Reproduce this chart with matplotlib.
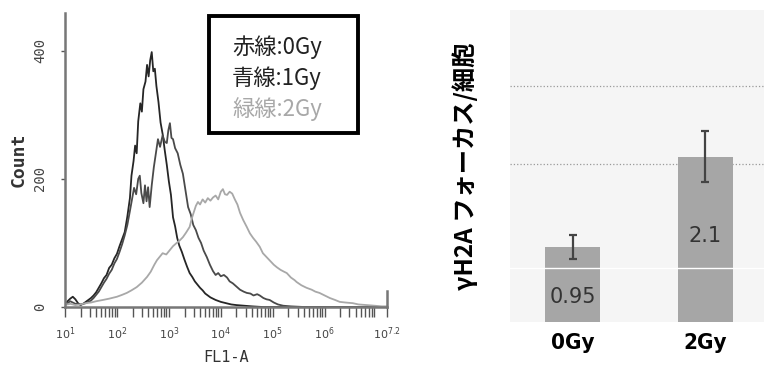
import numpy as np
import matplotlib
matplotlib.use("Agg")
import matplotlib.pyplot as plt
from matplotlib.patches import Rectangle

# FL1-A histogram (log10 of intensity, count)
red_log = [1.00, 1.05, 1.10, 1.15, 1.20, 1.25, 1.30, 1.35, 1.40, 1.45, 1.50, 1.55, 1.60, 1.65,
           1.70, 1.75, 1.80, 1.85, 1.90, 1.95, 2.00, 2.05, 2.10, 2.15, 2.20, 2.25, 2.28, 2.32,
           2.35, 2.38, 2.41, 2.45, 2.48, 2.51, 2.55, 2.58, 2.61, 2.64, 2.67, 2.70, 2.73, 2.76,
           2.80, 2.84, 2.88, 2.92, 2.96, 3.00, 3.04, 3.08, 3.12, 3.16, 3.20, 3.25, 3.30, 3.35,
           3.40, 3.45, 3.50, 3.55, 3.60, 3.65, 3.70, 3.75, 3.80, 3.90, 4.00, 4.10, 4.20, 4.30,
           4.45, 4.60, 4.80, 5.50, 7.20]
red_count = [4, 9, 13, 16, 12, 6, 3, 5, 8, 11, 14, 18, 23, 30,
             37, 45, 50, 61, 66, 76, 83, 95, 106, 117, 141, 170, 205, 228,
             252, 240, 290, 318, 305, 340, 352, 378, 360, 385, 398, 368, 372, 345,
             320, 288, 270, 245, 222, 196, 175, 140, 126, 108, 96, 86, 74, 63,
             53, 47, 40, 35, 30, 26, 21, 18, 15, 11, 8, 6, 4, 3,
             2, 1, 0, 0, 0]

blue_log = [1.00, 1.05, 1.10, 1.15, 1.20, 1.30, 1.40, 1.50, 1.55, 1.60, 1.65, 1.70, 1.75, 1.80,
            1.85, 1.90, 1.95, 2.00, 2.05, 2.10, 2.15, 2.20, 2.25, 2.29, 2.33, 2.37, 2.41, 2.44,
            2.47, 2.51, 2.54, 2.57, 2.60, 2.63, 2.67, 2.71, 2.75, 2.79, 2.83, 2.88, 2.92, 2.96,
            2.99, 3.02, 3.05, 3.08, 3.12, 3.17, 3.22, 3.27, 3.32, 3.37, 3.42, 3.47, 3.52, 3.57,
            3.62, 3.67, 3.73, 3.79, 3.85, 3.90, 3.95, 4.00, 4.06, 4.12, 4.17, 4.23, 4.30, 4.37,
            4.44, 4.50, 4.57, 4.63, 4.70, 4.75, 4.82, 4.88, 4.94, 5.02, 5.10, 5.20, 5.35, 5.60, 7.20]
blue_count = [3, 6, 9, 7, 5, 4, 6, 10, 14, 19, 24, 31, 38, 44,
              52, 58, 68, 75, 86, 98, 112, 128, 150, 168, 186, 176, 200, 205,
              178, 162, 190, 165, 187, 156, 190, 218, 240, 262, 250, 268, 258, 256,
              276, 287, 264, 262, 248, 240, 222, 208, 182, 156, 145, 128, 120, 108,
              100, 88, 78, 66, 56, 50, 53, 48, 50, 46, 40, 37, 32, 27,
              24, 22, 21, 18, 20, 18, 14, 12, 11, 7, 4, 2, 1, 0, 0]

green_log = [1.00, 1.05, 1.10, 1.20, 1.30, 1.40, 1.50, 1.60, 1.73, 1.85, 2.00, 2.10, 2.19, 2.28,
             2.38, 2.48, 2.58, 2.65, 2.72, 2.77, 2.82, 2.88, 2.95, 3.02, 3.08, 3.15, 3.21, 3.27,
             3.33, 3.40, 3.44, 3.48, 3.52, 3.56, 3.60, 3.65, 3.70, 3.75, 3.80, 3.85, 3.90, 3.95,
             4.00, 4.04, 4.08, 4.12, 4.17, 4.22, 4.27, 4.32, 4.37, 4.43, 4.50, 4.56, 4.62, 4.68,
             4.75, 4.81, 4.88, 4.95, 5.02, 5.08, 5.15, 5.22, 5.27, 5.35, 5.42, 5.46, 5.55, 5.65,
             5.75, 5.82, 5.90, 6.00, 6.10, 6.20, 6.29, 6.40, 6.54, 6.65, 6.81, 6.96, 7.10, 7.20]
green_count = [6, 4, 5, 3, 4, 6, 7, 9, 11, 13, 16, 19, 22, 26,
               31, 38, 47, 55, 66, 73, 78, 84, 82, 89, 95, 100, 104, 109,
               116, 125, 138, 148, 158, 164, 160, 168, 163, 170, 166, 171, 174, 168,
               180, 184, 176, 175, 180, 177, 168, 160, 147, 136, 125, 115, 108, 102,
               94, 84, 78, 72, 66, 62, 58, 55, 53, 46, 42, 39, 34, 30,
               27, 24, 22, 18, 14, 11, 8, 7, 6, 4, 3, 2, 1, 1]

legend_labels = ["赤線:0Gy", "青線:1Gy", "緑線:2Gy"]
line_colors = ["#262626", "#4a4a4a", "#a8a8a8"]

# bar chart
doses = ["0Gy", "2Gy"]
foci = [0.95, 2.1]
foci_err = [0.15, 0.32]
label_frac = [0.34, 0.52]

fig = plt.figure(figsize=(7.64, 3.67), dpi=100)

# ---- left: histogram
ax = fig.add_axes([65 / 764, 1 - 307 / 367, 322 / 764, 294 / 367])
for xs, ys, c in zip([red_log, blue_log, green_log], [red_count, blue_count, green_count], line_colors):
    ax.plot(10 ** np.array(xs), ys, color=c, lw=1.3)

ax.set_xscale("log")
ax.set_xlim(10, 10 ** 7.2)
ax.set_ylim(0, 459)
ax.set_xticks([10 ** k for k in [1, 2, 3, 4, 5, 6]] + [10 ** 7.2])
ax.set_xticklabels([r"$10^{%d}$" % k for k in [1, 2, 3, 4, 5, 6]] + [r"$10^{7.2}$"],
                   fontsize=8, color="#444")
ax.set_yticks([0, 200, 400])
ax.set_yticklabels(["0", "200", "400"], rotation=90, va="center",
                   fontsize=10, family="DejaVu Sans Mono", color="#444")
ax.tick_params(axis="x", which="both", direction="out", length=7, width=1, color="#555", pad=6)
ax.tick_params(axis="y", direction="out", length=3, width=1, color="#555", pad=10)
ax.set_xlabel("FL1-A", fontsize=11, family="DejaVu Sans Mono", color="#333", labelpad=6)
ax.set_ylabel("Count", fontsize=13, family="DejaVu Sans Mono", fontweight="bold",
              color="#333", labelpad=4)
ax.spines["top"].set_visible(False)
ax.spines["right"].set_bounds(0, 25)
for s in ["left", "bottom", "right"]:
    ax.spines[s].set_color("#777")
    ax.spines[s].set_linewidth(1.8)

# legend box
x0, x1 = (209 - 65) / 322, (358 - 65) / 322
y0, y1 = (307 - 133) / 294, (307 - 16) / 294
ax.add_patch(Rectangle((x0, y0), x1 - x0, y1 - y0, transform=ax.transAxes,
                       fill=False, edgecolor="black", lw=2.8, zorder=5))
for i, (lab, c) in enumerate(zip(legend_labels, line_colors)):
    ax.text((232 - 65) / 322, (307 - 47 - 31 * i) / 294, lab, transform=ax.transAxes,
            fontsize=16, color=c if i == 2 else "#222", va="center", ha="left",
            family=["Noto Sans CJK JP", "DejaVu Sans"])

# ---- right: bar chart
bx = fig.add_axes([510 / 764, 1 - 322 / 367, 254 / 764, 312 / 367])
bx.set_facecolor("#f5f5f5")
pos = np.arange(len(doses))
bx.bar(pos, foci, width=0.41, color="#a6a6a6", zorder=2)
bx.errorbar(pos, foci, yerr=foci_err, fmt="none", ecolor="#444", elinewidth=1.6,
            capsize=3, capthick=1.6, zorder=4)
bx.axhline(0.68, color="white", lw=1, zorder=3)
for p, v, f in zip(pos, foci, label_frac):
    bx.text(p, v * f, "%g" % v, ha="center", va="center", fontsize=15,
            color="#333", zorder=5)
bx.set_xlim(-0.47, 1.44)
bx.set_ylim(0, 3.96)
bx.set_yticks([2, 3])
bx.set_yticklabels([])
bx.grid(axis="y", color="#999", ls=":", lw=0.9, zorder=1)
bx.set_xticks(pos)
bx.set_xticklabels(doses, fontsize=16, fontweight="bold", fontstretch="condensed",
                   family=["Liberation Sans Narrow", "DejaVu Sans"])
bx.tick_params(length=0, pad=8)
for s in bx.spines.values():
    s.set_visible(False)
bx.set_ylabel("γH2A フォーカス/細胞", fontsize=17.5, fontweight="bold",
              family=["Noto Sans CJK JP", "DejaVu Sans"], labelpad=15)

fig.savefig("out.png", dpi=100)
